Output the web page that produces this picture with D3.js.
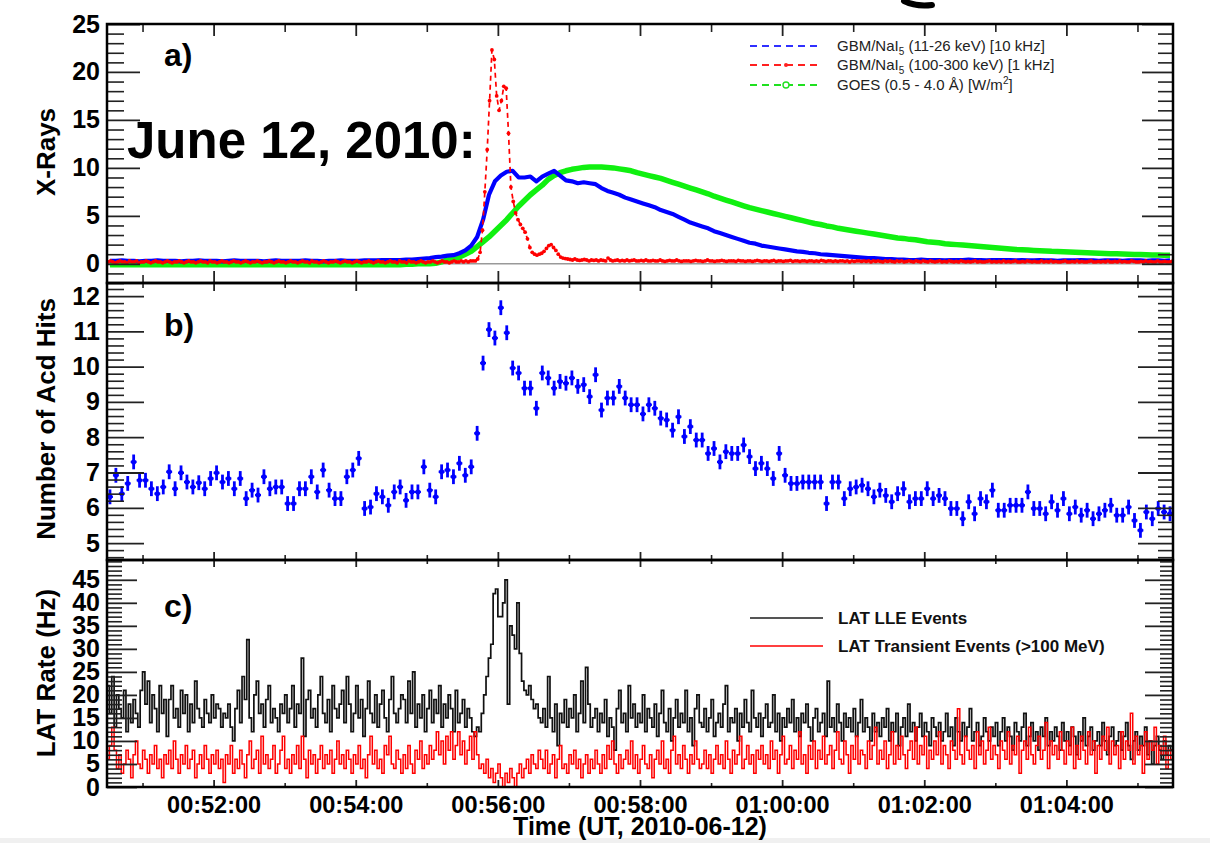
<!DOCTYPE html>
<html>
<head>
<meta charset="utf-8">
<script src="https://cdn.jsdelivr.net/npm/d3@7"></script>
<style>
  body { margin: 0; background: #fff; }
  svg { display: block; font-family: "Liberation Sans", Arial, Helvetica, sans-serif; }
</style>
</head>
<body>
<div id="chart"></div>
<script>
// ---- data ----

// time axis: seconds counted from 00:50:30 UT
const xTickLabels = ["00:52:00", "00:54:00", "00:56:00", "00:58:00", "01:00:00", "01:02:00", "01:04:00"];
const aTicks = [0, 5, 10, 15, 20, 25];
const bTicks = [5, 6, 7, 8, 9, 10, 11, 12];
const cTicks = [0, 5, 10, 15, 20, 25, 30, 35, 40, 45];

// a) GBM NaI 11-26 keV, one value every 5 s
const gbmLow = [
  0.3,0.3,0.35,0.3,0.3,0.25,0.3,0.3,0.35,0.3, 0.3,0.3,0.25,0.3,0.3,0.35,0.3,0.3,0.3,0.25,
  0.3,0.35,0.3,0.3,0.3,0.3,0.25,0.3,0.35,0.3, 0.3,0.3,0.3,0.35,0.3,0.3,0.25,0.3,0.3,0.35,
  0.3, 0.3,0.3,0.35,0.35,0.35,0.4,0.4,0.4,0.4,0.45,0.45,
  0.5,0.55,0.6,0.7,0.75,0.85,0.9,1.1,1.4,1.9, 2.8,4.6,7.2,8.6,9.2,9.6,9.7,9.0,9.0,9.1,
  8.6,9.1,9.4,9.7,9.2,8.7,8.6,8.4,8.5,8.4, 8.3,7.9,7.6,7.4,7.2,6.9,6.7,6.5,6.3,6.1,
  5.9,5.6,5.4,5.2,4.9,4.6,4.3,4.1,3.9,3.7, 3.4,3.2,3.0,2.8,2.6,2.4,2.2,2.1,1.9,1.8,
  1.7,1.6,1.5,1.4,1.3,1.25,1.15,1.1,1.0,0.95, 0.9,0.85,0.8,0.75,0.7,0.65,0.6,0.6,0.55,0.5,
  0.5,0.45,0.45,
  0.4,0.4,0.45,0.4,0.4,0.4,0.35,0.4,0.4,0.4, 0.45,0.4,0.4,0.35,0.4,0.4,0.4,0.4,0.35,0.4,
  0.35,0.35,0.4,0.35,0.35,0.3,0.35,0.35,0.35,0.4, 0.35,0.35,0.3,0.35,0.35,0.35,0.3,0.35,0.35,0.35,
  0.3,0.35,0.35,0.3,0.35
];

// a) GOES 0.5-4.0 A, one value every 5 s
const goes = [
  -0.1,-0.1,-0.1,-0.1,-0.1,-0.1,-0.1,-0.1,-0.1,-0.1, -0.1,-0.1,-0.1,-0.1,-0.1,-0.1,-0.1,-0.1,-0.1,-0.1,
  -0.1,-0.1,-0.1,-0.1,-0.1,-0.1,-0.1,-0.1,-0.1,-0.1, -0.1,-0.1,-0.1,-0.1,-0.1,-0.1,-0.1,-0.1,-0.1,-0.1,
  -0.1,-0.1,-0.1,-0.1,-0.1,-0.1,-0.1,-0.1,-0.1,-0.1, -0.05,-0.05,0.0,0.0,0.0,
  0.05,0.2,0.4,0.5,0.7, 1.0,1.3,1.8,2.3,2.8, 3.4,4.0,4.6,5.3,6.0, 6.6,7.2,7.7,8.2,8.8,
  9.2,9.5,9.7,9.85,9.95, 10.05,10.1,10.1,10.1,10.05, 10.0,9.9,9.8,9.7,9.5, 9.35,9.2,9.05,8.9,8.7,
  8.5,8.3,8.1,7.9,7.7, 7.5,7.3,7.05,6.85,6.65, 6.45,6.25,6.05,5.85,5.7, 5.55,5.4,5.25,5.1,4.95,
  4.8,4.65,4.5,4.35,4.2, 4.1,3.95,3.85,3.7,3.6, 3.5,3.4,3.3,3.2,3.1, 3.0,2.9,2.8,2.7,2.65,
  2.55,2.5,2.4,2.3,2.25, 2.2,2.1,2.05,2.0,1.95, 1.9,1.85,1.8,1.75,1.7, 1.65,1.6,1.55,1.5,1.47,
  1.44,1.4,1.37,1.34,1.3, 1.28,1.25,1.22,1.2,1.17, 1.15,1.12,1.1,1.08,1.06, 1.04,1.02,1.0,0.98,0.96,
  0.95,0.93,0.92,0.9,0.89
];

// a) GBM NaI 100-300 keV, one value every 2 s
const gbmHigh = [
  0.2,0.3,0.2,0.1,0.2,0.3,0.2,0.2,0.1,0.3,0.2,0.2,0.3,0.1,0.2,0.2,0.3,0.2,0.1,0.2,0.3,0.2,0.2,0.1,0.2,
  0.3,0.2,0.1,0.2,0.2,0.3,0.2,0.1,0.2,0.3,0.2,0.2,0.1,0.2,0.3,0.2,0.2,0.1,0.3,0.2,0.2,0.1,0.2,0.3,0.2,
  0.2,0.1,0.2,0.3,0.2,0.2,0.1,0.2,0.3,0.2,0.1,0.2,0.2,0.3,0.2,0.1,0.2,0.2,0.3,0.2,0.1,0.2,0.3,0.2,0.2,
  0.1,0.2,0.3,0.2,0.2,0.1,0.2,0.3,0.2,0.2,0.1,0.3,0.2,0.2,0.1,0.2,0.3,0.2,0.1,0.2,0.2,0.3,0.2,0.1,0.2,
  0.3,0.2,0.2,0.1,0.2,0.3,0.2,0.1,0.2,0.2,0.3,0.2,0.1,0.2,0.3,0.2,0.2,0.1,0.2,0.3,0.2,0.2,0.1,0.3,0.2,
  0.2,0.1,0.3,0.2,0.2,0.1,0.2,0.3,0.2,0.1,0.2,0.2,0.3,0.2,0.1,0.2,0.3,0.2,0.2,0.1,0.2,0.3,0.2,0.2,0.3,
  0.2,0.3,0.2,0.3,0.3,
  0.3,0.5,1.2,3.5,7.5,11.9,17.0,22.3,21.3,17.5, 16.0,17.0,18.5,18.3,13.6,8.0,6.5,5.3,4.6,4.1,
  3.7,3.3,2.6,1.7,1.2,1.0,0.9,1.0,1.1,1.3, 1.6,1.9,2.0,1.7,1.4,1.0,0.7,0.6,0.55,0.5,
  0.45,0.4,0.5,0.4,0.35,0.4,0.45,0.4,0.3,0.4,0.35,0.4,0.3,0.4,0.35,0.3,0.6,0.4,0.3,0.35,0.4,0.3,0.35,0.3,0.4,
  0.3,0.35,0.4,0.3,0.3,0.35,0.3,0.4,0.3,0.3,0.35,0.3,0.3,0.4,0.3,0.25,0.3,0.35,0.3,0.3,0.4,0.3,0.25,0.3,0.3,
  0.3,0.25,0.3,0.35,0.3,0.3,0.25,0.3,0.4,0.3,0.3,0.25,0.3,0.3,0.35,0.3,0.25,0.3,0.3,0.3,0.25,0.35,0.3,0.3,0.25,
  0.3,0.3,0.25,0.3,0.35,0.3,0.25,0.3,0.3,0.25,0.3,0.35,0.25,0.3,0.3,0.25,0.3,0.3,0.35,0.25,0.3,0.3,0.25,0.3,0.3,
  0.25,0.3,0.3,0.25,0.3,0.25,0.35,0.3,0.25,0.3,0.3,0.25,0.3,0.25,0.3,0.3,0.25,0.3,0.2,0.3,0.25,0.3,0.3,0.25,0.3,
  0.25,0.3,0.2,0.3,0.25,0.3,0.25,0.2,0.3,0.25,0.3,0.25,0.2,0.3,0.25,0.3,0.2,0.25,0.3,0.25,0.2,0.3,0.25,0.2,0.3,
  0.25,0.2,0.3,0.25,0.2,0.25,0.3,0.2,0.25,0.2,0.3,0.25,0.2,0.25,0.2,0.3,0.25,0.2,0.25,0.2,0.25,0.3,0.2,0.25,0.2,
  0.2,0.25,0.3,0.2,0.25,0.2,0.25,0.2,0.3,0.2,0.25,0.2,0.25,0.3,0.2,0.2,0.25,0.2,0.3,0.25,0.2,0.25,0.2,0.2,0.3,
  0.2,0.25,0.2,0.3,0.2,0.25,0.2,0.2,0.25,0.3,0.2,0.2,0.25,0.2,0.3,0.2,0.25,0.2,0.2,0.25,0.3,0.2,0.2,0.25,0.2,
  0.25,0.2,0.3,0.2,0.2,0.25,0.2,0.3,0.2,0.25,0.2,0.2,0.3,0.25,0.2,0.2,0.25,0.2,0.3,0.2,0.25,0.2,0.2,0.3,0.2,
  0.2,0.25,0.2,0.2,0.25
];

// b) ACD hits, 5 s bins
const acdHits = [
  6.31,6.92,6.40,6.69,7.30,6.78,6.78,6.54,6.40,6.59, 7.02,6.54,6.99,6.73,6.59,6.71,6.54,6.83,6.99,6.73,
  6.83,6.54,6.83,6.26,6.50,6.36,6.88,6.54,6.59,6.59, 6.12,6.12,6.54,6.54,6.88,6.45,7.07,6.50,6.26,6.26,
  6.88,7.07,7.40,5.98,6.02,6.40,6.31,6.07,6.45,6.59, 6.21,6.45,6.45,7.16,6.50,6.31,7.02,7.07,6.88,7.26,
  6.92,7.16,8.11,10.10,11.05,10.81,11.67,10.96,9.96,9.82, 9.39,9.39,8.82,9.82,9.68,9.39,9.58,9.53,9.68,9.44,
  9.49,9.15,9.77,8.77,9.11,9.11,9.44,9.11,8.92,8.92, 8.66,
  8.92,8.82,8.54,8.49,8.20,8.58,8.02,8.30,7.92,7.92, 7.54,7.68,7.30,7.59,7.54,7.54,7.78,7.45,7.11,7.26,
  7.11,6.83,7.54,6.92,6.69,6.69,6.73,6.73,6.73,6.73, 6.12,6.73,6.73,6.26,6.54,6.59,6.64,6.54,6.31,6.50,
  6.35,6.17,6.40,6.54,6.17,6.26,6.26,6.54,6.26,6.35, 6.26,5.98,5.98,5.69,6.17,5.83,6.26,6.17,6.50,5.93,
  5.93,6.07,6.07,6.07,6.45,5.98,5.98,5.83,6.17,5.93, 6.26,5.83,6.02,5.79,5.93,5.69,5.83,5.93,6.07,5.79,
  5.79,6.02,5.64,5.36,5.88,5.69,5.98,5.88,5.83
];
const acdErr = 0.21;

// c) LAT LLE events (Hz), 2 s bins
const lleRate = [
  22,16,24,13,20,17,15,21,12,18,14,19,16,13,21,25,18,23,14,20,17,12,22,16,19,
  11,19,22,15,17,13,21,16,20,12,18,14,23,17,15,13,19,16,14,20,15,18,17,13,16,
  15,18,13,10,17,21,14,24,19,32,15,12,20,23,16,18,13,19,22,14,17,15,12,18,16,
  20,14,17,22,13,18,16,28,11,19,21,15,17,13,20,24,16,14,19,12,22,17,15,18,21,
  14,24,18,12,16,22,15,19,11,17,23,16,14,20,13,18,21,15,12,19,24,16,14,17,20,
  19,14,23,16,25,13,18,15,20,12,17,21,14,19,16,22,13,18,15,20,17,12,21,14,16,19,13,17,15,12,11,13,12,
  16,20,24,28,31,42,43,37,37,40,45,18,35,33,30,40,29,23,21,20,22,19,17,18,15,
  14,17,13,24,15,12,18,9,16,14,19,13,17,15,20,12,16,23,14,26,18,13,15,17,12,
  16,14,19,11,15,13,8,17,21,14,16,12,22,15,18,13,16,14,20,12,17,15,13,18,11,
  16,21,14,12,17,10,15,19,13,16,14,21,12,15,9,17,20,14,
  13,17,12,15,19,11,14,16,13,18,22,12,15,14,17,10,16,13,19,14,12,21,15,13,16,
  11,15,18,13,14,20,12,16,10,15,13,17,14,19,12,15,11,16,14,18,13,10,15,17,12,
  14,16,11,23,13,15,12,18,14,10,16,13,15,12,17,11,14,19,12,15,13,10,16,12,14,
  11,15,13,17,10,14,12,16,9,13,15,11,18,12,14,10,13,16,11,14,12,9,15,13,11,
  14,10,12,16,11,13,9,15,12,10,14,11,13,17,10,12,14,9,11,15,12,10,13,11,14,
  9,12,15,10,13,11,8,14,12,10,13,16,9,11,14,10,12,8,13,11,15,9,12,10,13,
  11,8,14,10,12,9,13,11,7,12,10,15,9,11,13,8,10,12,9,14,10,7,11,13,9,
  10,12,8,11,14,9,6,10,12,8,11,9,13,7,10,5,9,11,8,6,10,7,9,8
];

// c) LAT transient events >100 MeV (Hz), 2 s bins
const transRate = [
  6,9,13,8,4,7,3,5,8,6,2,7,10,5,4,8,6,3,7,5,9,4,6,2,7,
  5,8,4,10,6,3,7,5,9,4,6,8,2,5,7,4,9,6,3,7,5,8,4,6,1,
  7,5,9,3,6,4,8,5,2,7,10,4,6,8,3,11,5,7,4,6,9,3,5,8,11,
  4,6,3,7,5,9,4,11,6,2,8,5,7,3,6,9,4,7,5,8,3,6,10,5,7,
  4,8,6,3,7,5,9,4,6,2,7,11,5,8,4,6,3,9,7,11,5,4,8,6,3,
  7,4,9,5,3,8,6,10,4,7,5,9,6,8,12,7,10,5,11,8,12,6,9,12,7,10,5,8,11,6,12,7,4,
  5,3,6,2,4,1,3,5,2,0,3,1,4,2,0,3,5,2,4,6,3,7,5,4,8,
  6,4,8,3,5,7,2,6,9,4,5,3,7,5,8,4,6,2,5,7,3,6,4,8,5,
  3,7,4,9,6,10,5,3,7,4,6,8,5,10,4,7,3,6,9,5,4,7,2,6,8,
  5,10,4,6,3,8,11,5,7,4,9,6,3,7,5,10,6,4,
  5,8,4,7,3,6,9,5,7,4,10,6,3,8,5,7,11,4,6,9,5,7,3,8,6,
  9,5,7,4,10,6,8,3,7,11,5,6,9,4,8,6,12,5,7,3,9,6,10,4,8,
  6,11,5,7,9,4,8,12,6,5,10,7,3,9,6,11,5,8,7,4,10,6,9,13,5,
  8,6,10,4,7,12,5,9,6,11,7,4,8,10,6,13,5,9,7,11,4,8,6,10,7,
  12,5,9,7,4,10,8,6,17,7,5,11,8,6,9,4,12,7,10,5,8,13,6,9,7,
  4,10,8,6,12,5,9,7,11,3,8,10,6,13,7,5,9,11,6,8,14,4,10,7,9,
  6,12,8,5,10,7,13,4,9,6,11,8,5,12,7,10,3,9,6,11,8,13,5,10,7,
  9,4,12,6,10,8,16,5,11,7,9,3,12,6,10,8,13,5,9,7,11,4,8,6
];

// ---- layout ----
const W = 1210, H = 843;
const X0 = 107, X1 = 1173;
const T0 = Date.UTC(2010, 5, 12, 0, 50, 30);
const sec = s => new Date(T0 + s * 1000);
const parseT = d3.utcParse("%Y-%m-%d %H:%M:%S");
const FONT = '"Liberation Sans", Arial, Helvetica, sans-serif';

const svg = d3.select("#chart").append("svg")
    .attr("width", W)
    .attr("height", H);

svg.append("rect").attr("x", 0).attr("y", 838).attr("width", W).attr("height", 5).attr("fill", "#f0f0f0");

const x = d3.scaleUtc().domain([sec(0), sec(900)]).range([X0, X1]);
const minuteTicks = x.ticks(d3.utcMinute.every(1));
const majorX = xTickLabels.map(s => parseT("2010-06-12 " + s));
const minorX = minuteTicks.filter(d => d.getUTCMinutes() % 2 === 1);

const panels = [
    {id: "a", top: 24, bottom: 283, domain: [-2, 25], major: aTicks, minorStep: 1, yLen: [33, 17], xLen: [12, 8], title: "X-Rays", titleY: 152, tag: "a)", tagY: 66},
    {id: "b", top: 283, bottom: 560, domain: [4.52, 12.37], major: bTicks, minorStep: 0.2, yLen: [37, 17], xLen: [8, 5], title: "Number of Acd Hits", titleY: 419, tag: "b)", tagY: 336},
    {id: "c", top: 560, bottom: 787, domain: [0, 49.3], major: cTicks, minorStep: 1, yLen: [30, 15], xLen: [7, 4], title: "LAT Rate (Hz)", titleY: 673, tag: "c)", tagY: 617}
];

function styleTicks(sel, width) {
    sel.select(".domain").remove();
    sel.selectAll(".tick line").attr("stroke", "#222").attr("stroke-width", width);
}

panels.forEach(p => {
    p.y = d3.scaleLinear().domain(p.domain).range([p.bottom, p.top]);
    const lo = Math.ceil(p.domain[0] / p.minorStep), hi = Math.floor(p.domain[1] / p.minorStep);
    p.minor = d3.range(lo, hi + 1).map(k => +(k * p.minorStep).toFixed(2)).filter(v => !p.major.includes(v));

    svg.append("clipPath").attr("id", "clip-" + p.id)
        .append("rect").attr("x", X0).attr("y", p.top).attr("width", X1 - X0).attr("height", p.bottom - p.top);
    p.g = svg.append("g").attr("clip-path", `url(#clip-${p.id})`);
});

// ---- panel a ----
const pa = panels[0];
pa.g.append("line")
    .attr("x1", X0).attr("x2", X1).attr("y1", pa.y(0)).attr("y2", pa.y(0))
    .attr("stroke", "#999").attr("stroke-width", 1.5);

const lineA = d3.line().x(d => x(d[0])).y(d => pa.y(d[1]));

pa.g.append("path")
    .datum(goes.map((v, i) => [sec(2.5 + 5 * i), v]))
    .attr("d", lineA)
    .attr("fill", "none").attr("stroke", "#10f010").attr("stroke-width", 5.5).attr("stroke-linejoin", "round");

pa.g.append("path")
    .datum(gbmLow.map((v, i) => [sec(2.5 + 5 * i), v]))
    .attr("d", lineA)
    .attr("fill", "none").attr("stroke", "#0000ff").attr("stroke-width", 4.2).attr("stroke-linejoin", "round");

const redData = gbmHigh.map((v, i) => [sec(1 + 2 * i), v]);
pa.g.append("path")
    .datum(redData)
    .attr("d", lineA)
    .attr("fill", "none").attr("stroke", "#ff0000").attr("stroke-width", 1.7).attr("stroke-dasharray", "5,4");
pa.g.selectAll(".redpt").data(redData).join("circle")
    .attr("class", "redpt")
    .attr("cx", d => x(d[0])).attr("cy", d => pa.y(d[1]))
    .attr("r", 1.9).attr("fill", "#ff0000");

// ---- panel b ----
const pb = panels[1];
const acd = acdHits.map((v, i) => ({t: 2.5 + 5 * i, v: v}));
const pts = pb.g.selectAll(".acd").data(acd).join("g").attr("class", "acd");
pts.append("line")
    .attr("x1", d => x(sec(d.t))).attr("x2", d => x(sec(d.t)))
    .attr("y1", d => pb.y(d.v - acdErr)).attr("y2", d => pb.y(d.v + acdErr))
    .attr("stroke", "#0000ff").attr("stroke-width", 2.8);
pts.append("line")
    .attr("x1", d => x(sec(d.t - 2.5))).attr("x2", d => x(sec(d.t + 2.5)))
    .attr("y1", d => pb.y(d.v)).attr("y2", d => pb.y(d.v))
    .attr("stroke", "#0000ff").attr("stroke-width", 2.3);
pts.append("circle")
    .attr("cx", d => x(sec(d.t))).attr("cy", d => pb.y(d.v))
    .attr("r", 2.5).attr("fill", "#0000ff");

// ---- panel c ----
const pc = panels[2];
const stepLine = d3.line().curve(d3.curveStepAfter).x(d => x(d[0])).y(d => pc.y(d[1]));
function histPoints(arr, w) {
    const out = arr.map((v, i) => [sec(i * w), v]);
    out.push([sec(arr.length * w), arr[arr.length - 1]]);
    return out;
}
pc.g.append("path")
    .datum(histPoints(lleRate, 2))
    .attr("d", stepLine)
    .attr("fill", "none").attr("stroke", "#111").attr("stroke-width", 1.7);
pc.g.append("path")
    .datum(histPoints(transRate, 2))
    .attr("d", stepLine)
    .attr("fill", "none").attr("stroke", "#ff0000").attr("stroke-width", 1.5);

// ---- axes, frames, labels ----
panels.forEach(p => {
    const left = svg.append("g").attr("transform", `translate(${X0},0)`)
        .call(d3.axisLeft(p.y).tickValues(p.major).tickSize(-p.yLen[0]).tickPadding(7).tickFormat(d3.format("d")))
        .attr("font-family", FONT).attr("font-size", 25).attr("font-weight", "bold");
    styleTicks(left, 1.8);
    left.selectAll("text").attr("fill", "#000");

    const leftMinor = svg.append("g").attr("transform", `translate(${X0},0)`)
        .call(d3.axisLeft(p.y).tickValues(p.minor).tickSize(-p.yLen[1]).tickFormat(""));
    styleTicks(leftMinor, 1.6);

    const right = svg.append("g").attr("transform", `translate(${X1},0)`)
        .call(d3.axisRight(p.y).tickValues(p.major).tickSize(-p.yLen[0] + 2).tickFormat(""));
    styleTicks(right, 1.8);
    const rightMinor = svg.append("g").attr("transform", `translate(${X1},0)`)
        .call(d3.axisRight(p.y).tickValues(p.minor).tickSize(-p.yLen[1] + 2).tickFormat(""));
    styleTicks(rightMinor, 1.6);

    [[p.top, d3.axisTop], [p.bottom, d3.axisBottom]].forEach(([yy, ax]) => {
        const gMaj = svg.append("g").attr("transform", `translate(0,${yy})`)
            .call(ax(x).tickValues(majorX).tickSize(-p.xLen[0]).tickFormat(""));
        styleTicks(gMaj, 1.8);
        const gMin = svg.append("g").attr("transform", `translate(0,${yy})`)
            .call(ax(x).tickValues(minorX).tickSize(-p.xLen[1]).tickFormat(""));
        styleTicks(gMin, 1.6);
    });

    svg.append("rect")
        .attr("x", X0).attr("y", p.top).attr("width", X1 - X0).attr("height", p.bottom - p.top)
        .attr("fill", "none").attr("stroke", "#000").attr("stroke-width", 2.5);

    svg.append("text")
        .attr("transform", `translate(55,${p.titleY}) rotate(-90)`)
        .attr("text-anchor", "middle")
        .attr("font-size", 26).attr("font-weight", "bold")
        .text(p.title);

    svg.append("text")
        .attr("x", 164).attr("y", p.tagY)
        .attr("font-size", 32).attr("font-weight", "bold")
        .text(p.tag);
});

// bottom time labels
const xLab = svg.append("g").attr("transform", `translate(0,${pc.bottom})`)
    .call(d3.axisBottom(x).tickValues(majorX).tickSize(0).tickPadding(9).tickFormat((d, i) => xTickLabels[i]))
    .attr("font-family", FONT).attr("font-size", 23.5).attr("font-weight", "bold");
xLab.select(".domain").remove();
xLab.selectAll("text").attr("fill", "#000");

svg.append("text")
    .attr("x", (X0 + X1) / 2).attr("y", 835)
    .attr("text-anchor", "middle")
    .attr("font-size", 25).attr("font-weight", "bold")
    .text("Time (UT, 2010-06-12)");

// ---- legend a ----
const legA = svg.append("g").attr("font-size", 15).attr("fill", "#222");
const legRows = [
    {y: 46, color: "#3030ff", marker: "none", text: ["GBM/NaI", "5", " (11-26 keV) [10 kHz]"], script: "sub"},
    {y: 65, color: "#ff2020", marker: "dot", text: ["GBM/NaI", "5", " (100-300 keV) [1 kHz]"], script: "sub"},
    {y: 85, color: "#20e020", marker: "ring", text: ["GOES (0.5 - 4.0 Å) [W/m", "2", "]"], script: "super"}
];
legRows.forEach(r => {
    legA.append("line")
        .attr("x1", 750).attr("x2", 822).attr("y1", r.y).attr("y2", r.y)
        .attr("stroke", r.color).attr("stroke-width", 1.8).attr("stroke-dasharray", "7,5");
    if (r.marker === "dot") {
        legA.append("circle").attr("cx", 786).attr("cy", r.y).attr("r", 2).attr("fill", r.color);
    } else if (r.marker === "ring") {
        legA.append("circle").attr("cx", 786).attr("cy", r.y).attr("r", 3).attr("fill", "#fff").attr("stroke", r.color).attr("stroke-width", 1.4);
    }
    const t = legA.append("text").attr("x", 837).attr("y", r.y + 5);
    t.append("tspan").text(r.text[0]);
    t.append("tspan").attr("font-size", 10).attr("dy", r.script === "sub" ? 4 : -6).text(r.text[1]);
    t.append("tspan").attr("dy", r.script === "sub" ? -4 : 6).text(r.text[2]);
});

// ---- legend c ----
const legC = svg.append("g").attr("font-size", 17).attr("font-weight", "bold").attr("fill", "#111");
[{y: 618, color: "#555", w: 2.2, text: "LAT LLE Events"},
 {y: 646, color: "#ff0000", w: 1.6, text: "LAT Transient Events (>100 MeV)"}].forEach(r => {
    legC.append("line")
        .attr("x1", 750).attr("x2", 823).attr("y1", r.y).attr("y2", r.y)
        .attr("stroke", r.color).attr("stroke-width", r.w);
    legC.append("text").attr("x", 838).attr("y", r.y + 6).text(r.text);
});

// ---- overlay text ----
svg.append("text")
    .attr("x", 127).attr("y", 158)
    .attr("font-size", 51).attr("font-weight", "bold")
    .text("June 12, 2010:");

// bottom edge of a cut-off heading at the very top
svg.append("path")
    .attr("d", "M904,1 Q916,7 932,5")
    .attr("fill", "none").attr("stroke", "#000").attr("stroke-width", 6).attr("stroke-linecap", "round");
</script>
</body>
</html>
